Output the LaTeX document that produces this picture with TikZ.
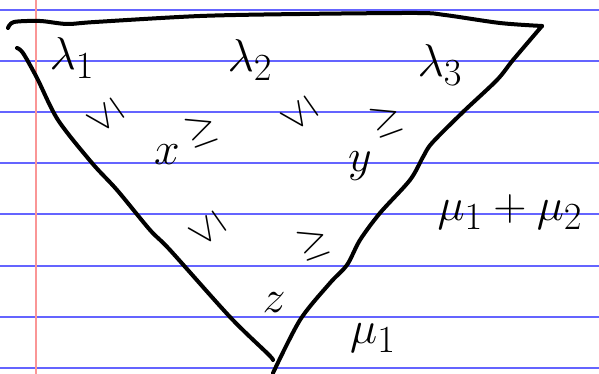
\documentclass[tikz,border=0pt]{standalone}
\usepackage{xcolor}
\usepackage{tikz}
\usepackage{amsmath}
\definecolor{ruleblue}{RGB}{100,100,255}
\definecolor{marginred}{RGB}{250,150,150}
\definecolor{ink}{RGB}{0,0,0}

\begin{document}
\begin{tikzpicture}[
  x=1pt, y=-1pt,
  rule/.style={ruleblue, line width=1.3pt},
  margin/.style={marginred, line width=1.4pt},
  stroke/.style={ink, line width=4pt, line cap=round, line join=round},
  lab/.style={ink, inner sep=0pt, font=\Huge, scale=1.85},
  rel/.style={ink, inner sep=0pt, font=\Huge, scale=1.6}]
  \useasboundingbox[fill=white] (0,0) rectangle (599,374);
  % ruled paper
  \foreach \yy in {10,61,112,163,214,266,317,368}
    \draw[rule] (0,\yy) -- (599,\yy);
  \draw[margin] (36,0) -- (36,374);
  % the triangle
  \draw[stroke] plot[smooth, tension=0.5] coordinates {(8,28) (14,22) (40,21)
    (67,24) (95,22) (200,16) (300,14) (417,13) (445,15) (500,23) (542,26)};
  \draw[stroke] plot[smooth, tension=0.5] coordinates {(542,26) (513,60)
    (497,80) (463,112) (432,143) (423,157) (410,180) (380,213) (360,240)
    (347,265) (330,283) (300,320) (273,373)};
  \draw[stroke] plot[smooth, tension=0.5] coordinates {(17,48) (23,53)
    (37,78) (58,120) (92,163) (117,190) (150,230) (170,250)
    (230,317) (268,354) (273,360)};
  % top row
  \node[lab] (l1) at (72,58) {$\lambda_1$};
  \node[lab] (l2) at (250,60) {$\lambda_2$};
  \node[lab] (l3) at (440,65) {$\lambda_3$};
  % middle row
  \node[lab] (x) at (167,155) {$x$};
  \node[lab] (y) at (360,166) {$y$};
  % bottom
  \node[lab] (z) at (274,303) {$z$};
  % relations
  \node[rel, rotate=125] (r1) at (105,117) {$\leq$};
  \node[rel, rotate=20] (r2) at (202,130) {$\geq$};
  \node[rel, rotate=125] (r3) at (299,115) {$\leq$};
  \node[rel, rotate=20] (r4) at (387,120) {$\geq$};
  \node[rel, rotate=125] (r5) at (207,230) {$\leq$};
  \node[rel, rotate=20] (r6) at (314,243) {$\geq$};
  % right hand side
  \node[lab] (m12) at (510,212) {$\mu_1+\mu_2$};
  \node[lab] (m1) at (373,338) {$\mu_1$};
\end{tikzpicture}
\end{document}
